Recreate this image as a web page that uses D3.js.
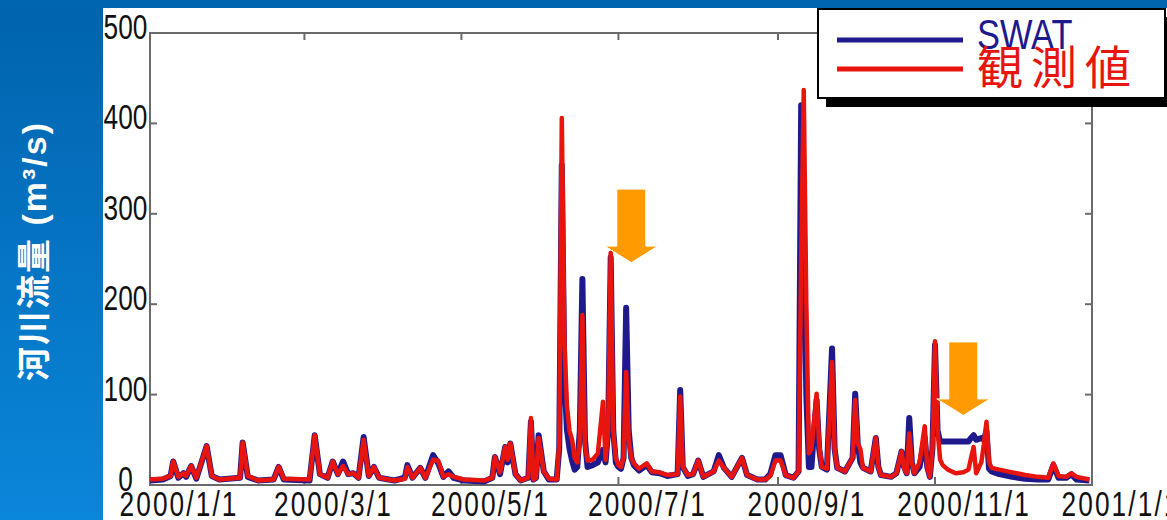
<!DOCTYPE html>
<html>
<head>
<meta charset="utf-8">
<script src="https://cdn.jsdelivr.net/npm/d3@7"></script>
<style>
  html, body { margin: 0; padding: 0; background: #fff; overflow: hidden; }
  svg { display: block; }
</style>
</head>
<body>
<div id="chart"></div>
<script>
// day of year 2000 (0 = 2000/1/1) and daily flow (m3/s)
const days = [0, 5, 8, 9, 11, 13, 14, 16, 18, 22, 24, 27, 35, 36, 38, 42, 48, 50, 52, 62,
  64, 66, 69, 71, 73, 75, 77, 79, 81, 83, 85, 87, 89, 95, 99, 100, 102, 105, 107, 110,
  112, 114, 116, 118, 122, 130, 133, 134, 136, 138, 139, 140, 142, 144, 147, 148, 149, 150, 151, 153,
  155, 158, 159, 160, 161, 162, 163, 164, 165, 166, 167, 168, 169, 170, 172, 174, 176, 177, 178, 179,
  180, 181, 182, 183, 184, 185, 186, 187, 188, 190, 193, 195, 198, 201, 205, 206, 207, 209, 211, 213,
  215, 219, 221, 223, 226, 230, 232, 236, 239, 241, 243, 245, 247, 250, 252, 253, 254, 255, 256, 257,
  258, 259, 260, 261, 263, 265, 266, 267, 270, 273, 274, 275, 276, 277, 280, 282, 283, 284, 288, 290,
  292, 293, 294, 295, 296, 297, 299, 301, 302, 303, 304, 305, 306, 307, 308, 310, 313, 316, 318, 319,
  320, 321, 323, 324, 325, 326, 327, 330, 335, 340, 345, 349, 351, 353, 356, 358, 360, 365];

const swatFlow = [5, 6, 10, 26, 8, 13, 9, 21, 7, 43, 10, 6, 8, 47, 9, 5, 6, 20, 6, 5,
  55, 12, 8, 26, 12, 26, 12, 13, 8, 53, 10, 20, 8, 5, 8, 22, 8, 19, 8, 33,
  24, 9, 15, 8, 5, 4, 8, 31, 12, 42, 25, 46, 12, 5, 8, 70, 6, 8, 55, 15,
  6, 6, 40, 354, 120, 61, 40, 27, 17, 20, 60, 228, 50, 20, 22, 25, 39, 25, 60, 252,
  60, 25, 20, 18, 30, 196, 60, 30, 22, 16, 22, 14, 13, 10, 12, 105, 20, 10, 12, 27,
  9, 15, 33, 19, 9, 30, 11, 6, 6, 12, 33, 33, 11, 8, 15, 420, 300, 100, 20, 20,
  60, 94, 40, 20, 17, 151, 40, 19, 15, 30, 101, 45, 25, 19, 15, 52, 20, 11, 9, 13,
  37, 20, 13, 74, 25, 13, 20, 53, 20, 9, 40, 155, 60, 48, 48, 48, 48, 48, 48, 52,
  55, 50, 52, 50, 60, 18, 15, 12, 9, 7, 6, 6, 22, 8, 8, 12, 6, 5];

const obsFlow = [6, 7, 10, 26, 9, 13, 10, 21, 8, 43, 10, 6, 8, 47, 10, 5, 6, 20, 7, 6,
  55, 12, 8, 26, 12, 21, 12, 13, 8, 50, 10, 20, 8, 5, 7, 20, 8, 19, 8, 28,
  27, 9, 12, 9, 6, 5, 8, 31, 14, 42, 28, 46, 12, 5, 8, 74, 6, 8, 52, 15,
  7, 6, 45, 406, 160, 87, 60, 50, 30, 25, 50, 188, 45, 27, 28, 35, 92, 28, 60, 257,
  60, 30, 22, 20, 30, 125, 50, 30, 24, 18, 24, 15, 14, 11, 12, 98, 20, 11, 12, 27,
  9, 15, 27, 19, 9, 30, 11, 6, 6, 10, 27, 27, 11, 8, 15, 250, 437, 200, 35, 40,
  70, 101, 45, 20, 18, 136, 40, 19, 15, 30, 94, 46, 40, 19, 15, 52, 20, 11, 9, 13,
  37, 18, 13, 57, 25, 13, 25, 65, 20, 9, 40, 159, 60, 28, 22, 17, 13, 14, 17, 30,
  42, 13, 25, 45, 70, 25, 19, 17, 14, 11, 9, 8, 24, 10, 9, 13, 9, 6];

const yTicks = [0, 100, 200, 300, 400, 500];
const xTickDates = ["2000-01-01", "2000-03-01", "2000-05-01", "2000-07-01", "2000-09-01", "2000-11-01", "2001-01-01"];
const seriesNames = ["SWAT", "観測値"];
const yLabel = "河川流量 (m³/s)";

// orange arrows: tip position (day of year, flow)
const arrowDays = [187.6, 316.6];
const arrowFlows = [246, 77];

const settings = {
    width: 1167,
    height: 520,
    plotLeft: 150,
    plotRight: 1092,
    plotTop: 33,
    plotBottom: 485,
    tickLen: 7,
    swatColor: "#1e1a8e",
    obsColor: "#e8150f",
    axisColor: "#6a6a6a",
    arrowColor: "#ff9b00",
    font: "'Liberation Sans', Arial, sans-serif",
    cjk: "'Liberation Sans', 'Noto Sans CJK JP', sans-serif"
};

const start = new Date(2000, 0, 1);
const toDate = d => d3.timeDay.offset(start, d);
const parse = d3.timeParse("%Y-%m-%d");
const fmt = d3.timeFormat("%Y/%-m/%-d");

const x = d3.scaleTime()
    .domain([start, new Date(2001, 0, 1)])
    .range([settings.plotLeft, settings.plotRight]);

const y = d3.scaleLinear()
    .domain([0, 500])
    .range([settings.plotBottom, settings.plotTop]);

const svg = d3.select("#chart").append("svg")
    .attr("width", settings.width)
    .attr("height", settings.height)
    .attr("viewBox", [0, 0, settings.width, settings.height]);

const defs = svg.append("defs");
const grad = defs.append("linearGradient")
    .attr("id", "panel")
    .attr("x1", 0).attr("y1", 0).attr("x2", 0).attr("y2", 1);
grad.append("stop").attr("offset", "0%").attr("stop-color", "#0063ad");
grad.append("stop").attr("offset", "100%").attr("stop-color", "#0a86da");

svg.append("rect").attr("width", settings.width).attr("height", settings.height).attr("fill", "#fff");
svg.append("rect").attr("width", 103).attr("height", settings.height).attr("fill", "url(#panel)");
svg.append("rect").attr("width", settings.width).attr("height", 8).attr("fill", "#0065b0");

// vertical title in the blue panel
svg.append("text")
    .attr("transform", "translate(46,251) rotate(-90)")
    .attr("text-anchor", "middle")
    .attr("fill", "#fff")
    .attr("font-family", settings.cjk)
    .attr("font-weight", "bold")
    .attr("font-size", 34)
    .attr("letter-spacing", 2)
    .text(yLabel);

// frame + inward ticks on all sides
const gAxis = svg.append("g")
    .attr("stroke", settings.axisColor)
    .attr("stroke-width", 2)
    .attr("fill", "none");

gAxis.append("rect")
    .attr("x", settings.plotLeft)
    .attr("y", settings.plotTop)
    .attr("width", settings.plotRight - settings.plotLeft)
    .attr("height", settings.plotBottom - settings.plotTop);

yTicks.forEach(t => {
    gAxis.append("line")
        .attr("x1", settings.plotLeft).attr("x2", settings.plotLeft + settings.tickLen)
        .attr("y1", y(t)).attr("y2", y(t));
    gAxis.append("line")
        .attr("x1", settings.plotRight).attr("x2", settings.plotRight - settings.tickLen)
        .attr("y1", y(t)).attr("y2", y(t));
});

xTickDates.map(parse).forEach(d => {
    gAxis.append("line")
        .attr("x1", x(d)).attr("x2", x(d))
        .attr("y1", settings.plotBottom).attr("y2", settings.plotBottom - settings.tickLen - 1);
    gAxis.append("line")
        .attr("x1", x(d)).attr("x2", x(d))
        .attr("y1", settings.plotTop).attr("y2", settings.plotTop + settings.tickLen);
});

// tick labels (narrow face)
svg.append("g").selectAll("text")
    .data(yTicks)
    .join("text")
    .attr("transform", d => `translate(125.5,${y(d) + 6}) scale(0.75,1)`)
    .attr("text-anchor", "middle")
    .attr("font-family", settings.font)
    .attr("font-size", 35)
    .attr("fill", "#111")
    .text(d => d);

svg.append("g").selectAll("text")
    .data(xTickDates.map(parse))
    .join("text")
    .attr("transform", d => `translate(${x(d) + 29},516) scale(0.75,1)`)
    .attr("text-anchor", "middle")
    .attr("font-family", settings.font)
    .attr("font-size", 35)
    .attr("letter-spacing", 2.8)
    .attr("fill", "#111")
    .text(d => fmt(d));

// series
const line = d3.line()
    .x((d, i) => x(toDate(days[i])))
    .y(d => y(d));

svg.append("path")
    .datum(swatFlow)
    .attr("fill", "none")
    .attr("stroke", settings.swatColor)
    .attr("stroke-width", 6)
    .attr("stroke-linejoin", "round")
    .attr("d", line);

svg.append("path")
    .datum(obsFlow)
    .attr("fill", "none")
    .attr("stroke", settings.obsColor)
    .attr("stroke-width", 4.5)
    .attr("stroke-linejoin", "round")
    .attr("d", line);

// legend with drop shadow
const gLegend = svg.append("g");
gLegend.append("rect")
    .attr("x", 826).attr("y", 17).attr("width", 350).attr("height", 90)
    .attr("fill", "#000");
gLegend.append("rect")
    .attr("x", 818).attr("y", 9).attr("width", 347).attr("height", 89)
    .attr("fill", "#fff")
    .attr("stroke", "#000")
    .attr("stroke-width", 2);

[settings.swatColor, settings.obsColor].forEach((c, i) => {
    gLegend.append("line")
        .attr("x1", 837).attr("x2", 963)
        .attr("y1", 40 + i * 29).attr("y2", 40 + i * 29)
        .attr("stroke", c)
        .attr("stroke-width", 5);
});

gLegend.append("text")
    .attr("transform", "translate(977,49) scale(0.8,1)")
    .attr("font-family", settings.font)
    .attr("font-size", 43)
    .attr("fill", settings.swatColor)
    .text(seriesNames[0]);

gLegend.append("text")
    .attr("x", 977).attr("y", 84)
    .attr("font-family", "'Noto Sans CJK JP', sans-serif")
    .attr("font-size", 46)
    .attr("letter-spacing", 8)
    .attr("fill", settings.obsColor)
    .text(seriesNames[1]);

// orange arrows pointing at the discrepancies
const arrowPath = (tx, ty) => {
    const sw = 14.5, hw = 26.5, hh = 16.5, sl = 57;
    return `M${tx - sw},${ty - hh - sl}H${tx + sw}V${ty - hh}H${tx + hw}L${tx},${ty}L${tx - hw},${ty - hh}H${tx - sw}Z`;
};

svg.append("g").selectAll("path")
    .data(arrowDays.map((d, i) => [d, arrowFlows[i]]))
    .join("path")
    .attr("d", d => arrowPath(x(toDate(d[0])), y(d[1])))
    .attr("fill", settings.arrowColor)
    .attr("stroke", "#fff")
    .attr("stroke-width", 1);
</script>
</body>
</html>
